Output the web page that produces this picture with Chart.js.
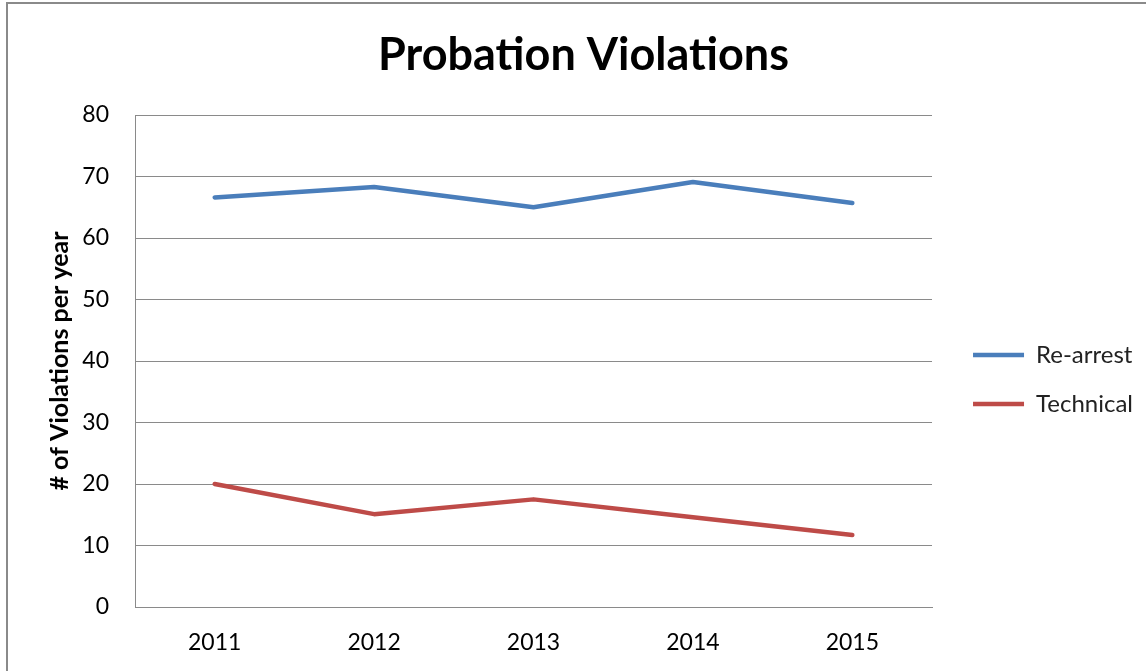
<!DOCTYPE html>
<html>
<head>
<meta charset="utf-8">
<script src="https://cdn.jsdelivr.net/npm/chart.js@4/dist/chart.umd.min.js"></script>
<style>
  html, body { margin: 0; padding: 0; background: #fff; }
  #wrap { position: absolute; left: 0; top: 0; width: 1146px; height: 671px; overflow: hidden; }
  #frame { position: absolute; left: 6px; top: 2px; width: 1200px; height: 700px;
           border-left: 2px solid #8a8a8a; border-top: 2px solid #8a8a8a; box-sizing: border-box; pointer-events: none; }
  canvas { position: absolute; left: 0; top: 0; }
</style>
</head>
<body>
<div id="wrap">
  <canvas id="c" width="1146" height="671"></canvas>
  <div id="frame"></div>
</div>
<script>
const categories = ["2011", "2012", "2013", "2014", "2015"];
const reArrest = [66.6, 68.3, 65.0, 69.1, 65.7];
const technical = [20.0, 15.1, 17.5, 14.6, 11.7];
const yTicks = [0, 10, 20, 30, 40, 50, 60, 70, 80];

const FONT = "Lato, 'Open Sans', 'Liberation Sans', sans-serif";

const boxShift = {
  id: 'boxShift',
  afterLayout(chart) {
    const lg = chart.legend;
    if (lg) {
      const dx = (chart.chartArea.right + 16) - lg.left;
      lg.left += dx; lg.right += dx;
      lg.top += 44; lg.bottom += 44;
    }
    const tb = chart.titleBlock;
    if (tb) { tb.left += 20; tb.right += 20; }
  }
};

new Chart(document.getElementById('c'), {
  type: 'line',
  data: {
    labels: categories,
    datasets: [
      { label: 'Re-arrest', data: reArrest, borderColor: '#4a7ebb', backgroundColor: '#4a7ebb',
        borderWidth: 4.5, pointRadius: 0, tension: 0, borderCapStyle: 'round', borderJoinStyle: 'round' },
      { label: 'Technical', data: technical, borderColor: '#be4b48', backgroundColor: '#be4b48',
        borderWidth: 4.5, pointRadius: 0, tension: 0, borderCapStyle: 'round', borderJoinStyle: 'round' }
    ]
  },
  plugins: [boxShift],
  options: {
    responsive: false,
    animation: false,
    layout: { padding: { left: 0, right: 19, top: 0, bottom: 0 } },
    plugins: {
      title: {
        display: true, text: 'Probation Violations', color: '#000',
        font: { family: FONT, size: 45, weight: 'bold' },
        padding: { top: 28, bottom: 33 }
      },
      legend: {
        position: 'right',
        align: 'center',
        labels: {
          usePointStyle: true, pointStyle: 'line', pointStyleWidth: 51,
          boxHeight: 4, padding: 25, color: '#222',
          font: { family: FONT, size: 24 }
        }
      },
      tooltip: { enabled: false }
    },
    scales: {
      x: {
        offset: true,
        grid: { display: false, drawTicks: false },
        border: { display: true, color: '#8a8a8a', width: 1 },
        ticks: { color: '#000', font: { family: FONT, size: 23 }, padding: 22, maxRotation: 0 },
        afterFit: (s) => { s.height = 64; }
      },
      y: {
        min: 0, max: 80,
        afterBuildTicks: (s) => { s.ticks = yTicks.map(v => ({ value: v })); },
        grid: { color: '#8a8a8a', lineWidth: 1, drawTicks: false },
        border: { display: true, color: '#8a8a8a', width: 1 },
        ticks: { color: '#000', font: { family: FONT, size: 23 }, padding: 26 },
        title: { display: true, text: '# of Violations per year', color: '#000',
                 font: { family: FONT, size: 25, weight: 'bold' }, padding: { top: 45, bottom: 0 } },
        afterFit: (s) => { s.width = 135; }
      }
    }
  }
});
</script>
</body>
</html>
